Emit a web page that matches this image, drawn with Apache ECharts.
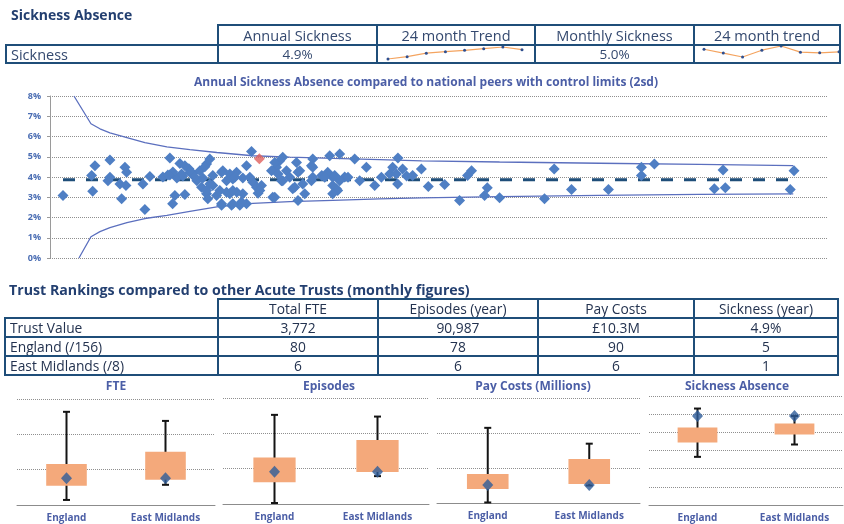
<!DOCTYPE html>
<html>
<head>
<meta charset="utf-8">
<script src="https://cdn.jsdelivr.net/npm/echarts@6/dist/echarts.min.js"></script>
<style>
  html, body { margin: 0; padding: 0; background: #fff; }
  #page { position: relative; width: 844px; height: 524px; overflow: hidden; font-family: "Open Sans", "Noto Sans", sans-serif; }
  #chart { position: absolute; left: 0; top: 0; width: 844px; height: 524px; }
  .cell { position: absolute; box-sizing: border-box; border: 2px solid #1F4E79; display: flex; align-items: center; justify-content: center; color: #23324F; white-space: nowrap; }
  .cell.left { justify-content: flex-start; padding-left: 4px; }
  .heading { position: absolute; font-weight: bold; color: #233F70; white-space: nowrap; }
</style>
</head>
<body>
<div id="page">
  <div id="chart"></div>
</div>
<script>
// ---- Summary table ----
const topHeaders = ['Annual Sickness', '24 month Trend', 'Monthly Sickness', '24 month trend'];
const topRowLabel = 'Sickness';
const topRowValues = ['4.9%', '', '5.0%', ''];

// 24 month sparklines (sickness %, quarterly markers)
const sparkPeriods = ['Q1', 'Q2', 'Q3', 'Q4', 'Q5', 'Q6', 'Q7', 'Q8'];
const sparkAnnual = [4.34, 4.48, 4.69, 4.78, 4.86, 4.96, 5.06, 4.90];
const sparkMonthly = [5.16, 4.92, 4.68, 5.10, 5.36, 4.98, 4.94, 5.00];

// ---- Funnel plot: [FTE, annual sickness %] for each acute trust ----
const peerTrusts = [
  [234,3.09],[810,4.56],[750,4.07],[769,3.30],[1080,4.84],[1044,3.82],[1080,3.99],[1291,2.93],[1350,4.48],[1381,4.23],
  [1260,3.66],[1368,3.58],[1674,3.66],[1710,2.39],[1800,4.02],[2160,4.94],[2340,4.67],[2034,4.00],[2160,4.10],[2286,3.95],
  [2394,4.05],[2214,4.25],[2250,3.09],[2209,2.68],[2430,3.14],[2502,4.41],[2574,4.17],[2700,4.31],[2646,3.82],[2821,4.64],
  [2880,4.89],[2754,3.95],[2731,3.50],[2821,3.17],[2844,2.93],[2934,4.07],[2934,3.58],[3001,3.09],[3091,2.60],[3114,4.31],
  [3181,3.82],[3240,3.17],[3271,2.60],[3294,3.90],[3361,4.23],[3366,3.25],[3420,2.60],[3474,3.95],[3541,4.56],[3541,2.68],
  [3474,3.17],[3631,5.26],[3654,3.74],[3721,3.50],[3749,3.20],[4014,3.00],[4081,4.48],[4140,4.80],[4194,4.97],[4171,3.82],
  [4261,4.31],[4320,3.99],[4441,4.72],[4500,4.31],[4374,3.42],[4554,3.66],[4469,2.84],[4590,3.17],[4734,4.89],[4734,4.48],
  [4711,3.82],[5040,5.05],[5094,3.99],[5161,3.42],[5220,5.13],[5310,4.00],[5369,3.99],[5490,4.89],[5580,3.82],[5701,4.48],
  [5850,3.58],[5971,3.99],[6120,4.15],[6174,4.48],[6269,4.94],[6264,3.66],[6354,4.40],[6426,4.05],[6534,4.07],[6691,4.40],
  [6817,3.53],[7110,3.63],[7380,2.84],[7524,4.07],[7596,4.31],[7830,3.09],[7879,3.47],[8100,2.98],[8910,2.93],[9085,4.40],
  [9396,3.38],[10062,3.38],[10656,4.48],[10656,4.07],[10890,4.64],[11970,3.42],[12127,4.35],[12168,3.47],[13338,3.38],[13405,4.31],
  [2790,4.51],[2430,4.56],[2371,4.15],[2520,4.23],[2610,3.99],[2880,3.66],[2821,3.33],[3091,4.23],[3240,4.15],[3330,3.99],
  [3060,3.33],[3181,3.25],[3294,3.33],[3091,2.68],[3294,2.68],[3451,2.76],[3600,3.99],[3811,3.58],[3780,3.33],[4050,4.72],
  [3991,4.31],[4109,4.15],[4194,3.82],[4050,3.00],[4469,4.23],[4410,3.50],[4711,4.56],[4734,3.99],[2124,4.10],[4896,4.07],
  [5004,4.23],[5130,4.07],[5220,3.82],[5094,3.58],[5184,3.33],[5094,3.17],[4950,3.99],[6241,4.15]
];
const ourTrust = [3772, 4.9];
const nationalMean = [[234, 3.86], [13405, 3.86]];
const upperLimit = [[432,8.0],[738,6.63],[900,6.38],[1080,6.18],[1386,5.95],[1710,5.70],[2106,5.49],[2520,5.35],[3006,5.21],
  [3654,5.05],[4320,4.98],[5094,4.92],[5940,4.86],[6696,4.80],[8100,4.74],[9900,4.68],[11700,4.62],[13392,4.56]];
const lowerLimit = [[522,0.0],[738,1.05],[900,1.30],[1080,1.50],[1386,1.75],[1710,1.95],[2106,2.10],[2520,2.30],[3006,2.52],
  [3654,2.70],[4320,2.78],[5094,2.85],[5940,2.92],[6696,2.97],[8100,3.03],[9900,3.09],[11700,3.14],[13392,3.17]];

// ---- Rankings table ----
const rankHeaders = ['Total FTE', 'Episodes (year)', 'Pay Costs', 'Sickness (year)'];
const rankLabels = ['Trust Value', 'England (/156)', 'East Midlands (/8)'];
const rankTrustValue = ['3,772', '90,987', '£10.3M', '4.9%'];
const rankEngland = ['80', '78', '90', '5'];
const rankEastMidlands = ['6', '6', '6', '1'];

// ---- Peer distributions: [min, lower quartile, upper quartile, max] ----
const boxCategories = ['England', 'East Midlands'];
const fteEngland = [714, 2714, 5814, 13186];
const fteEastMidlands = [2857, 3571, 7529, 11900];
const episodesEngland = [2857, 61714, 131429, 252286];
const episodesEastMidlands = [78857, 90286, 180857, 247429];
const payEngland = [0.3, 7.95, 16.6, 42.95];
const payEastMidlands = [10.0, 10.8, 25.2, 33.9];
const sicknessEngland = [2.65, 3.44, 4.26, 5.31];
const sicknessEastMidlands = [3.33, 3.88, 4.48, 4.9];
const trustFte = 3772;
const trustEpisodes = 90987;
const trustPay = 10.3;
const trustSickness = 4.9;

// ---------------- HTML tables ----------------
const page = document.getElementById('page');

function addCell(x0, x1, y0, y1, text, opts) {
  opts = opts || {};
  const d = document.createElement('div');
  d.className = 'cell' + (opts.left ? ' left' : '');
  d.style.left = (x0 - 1) + 'px';
  d.style.top = (y0 - 1) + 'px';
  d.style.width = (x1 - x0 + 2) + 'px';
  d.style.height = (y1 - y0 + 2) + 'px';
  d.style.fontSize = (opts.size || 12) + 'px';
  if (opts.color) d.style.color = opts.color;
  d.textContent = text;
  page.appendChild(d);
}
function addHeading(text, x, y, size) {
  const d = document.createElement('div');
  d.className = 'heading';
  d.style.left = x + 'px';
  d.style.top = y + 'px';
  d.style.fontSize = size + 'px';
  d.textContent = text;
  page.appendChild(d);
}

addHeading('Sickness Absence', 11, 5, 14);
const topCols = [218, 377, 535, 694, 840];
topHeaders.forEach((h, i) => addCell(topCols[i], topCols[i + 1], 25, 45, h, { size: 14.5, color: '#34496F' }));
addCell(6, 218, 45, 63, topRowLabel, { left: true, size: 14.5, color: '#34496F' });
topRowValues.forEach((v, i) => addCell(topCols[i], topCols[i + 1], 45, 63, v, { size: 13.5, color: '#34496F' }));

addHeading('Trust Rankings compared to other Acute Trusts (monthly figures)', 9, 280, 14.2);
const rankCols = [218, 378, 538, 694, 838];
const rankRowsY = [299, 318, 337, 356, 375];
rankHeaders.forEach((h, i) => addCell(rankCols[i], rankCols[i + 1], rankRowsY[0], rankRowsY[1], h, { size: 13.8 }));
[rankTrustValue, rankEngland, rankEastMidlands].forEach((row, r) => {
  addCell(5, 218, rankRowsY[r + 1], rankRowsY[r + 2], rankLabels[r], { left: true, size: 13.8 });
  row.forEach((v, i) => addCell(rankCols[i], rankCols[i + 1], rankRowsY[r + 1], rankRowsY[r + 2], v, { size: 13.8 }));
});

// ---------------- ECharts ----------------
const chart = echarts.init(document.getElementById('chart'));
const FONT = '"Open Sans", "Noto Sans", sans-serif';
const TITLE_BLUE = '#4B5EA6';
const GRID_LINE = { lineStyle: { color: '#8f8f8f', type: 'dotted', width: 1 } };

const boxPanels = [
  { title: 'FTE', left: 17, width: 198, top: 399, height: 106, max: 15000, interval: 5000,
    boxes: [fteEngland, fteEastMidlands], trust: trustFte },
  { title: 'Episodes', left: 223, width: 206, top: 398, height: 106, max: 300000, interval: 100000,
    boxes: [episodesEngland, episodesEastMidlands], trust: trustEpisodes },
  { title: 'Pay Costs (Millions)', left: 437, width: 203, top: 398, height: 105, max: 60, interval: 20,
    boxes: [payEngland, payEastMidlands], trust: trustPay },
  { title: 'Sickness Absence', left: 649, width: 194, top: 396, height: 109, max: 6, interval: 1,
    boxes: [sicknessEngland, sicknessEastMidlands], trust: trustSickness }
];
const panelTitleX = [116, 329, 533, 737];

const grids = [
  { left: 50, top: 96, width: 777, height: 162 },
  { left: 388, top: 47, width: 134, height: 12 },
  { left: 704, top: 46, width: 135, height: 11 }
];
const xAxes = [
  { gridIndex: 0, type: 'value', min: 0, max: 14000, show: false },
  { gridIndex: 1, type: 'category', data: sparkPeriods, boundaryGap: false, show: false },
  { gridIndex: 2, type: 'category', data: sparkPeriods, boundaryGap: false, show: false }
];
const yAxes = [
  { gridIndex: 0, type: 'value', min: 0, max: 8, interval: 1,
    axisLabel: { formatter: '{value}%', color: '#4A6DB3', fontSize: 9, fontWeight: 'bold', fontFamily: FONT, margin: 9 },
    axisLine: { show: true, lineStyle: { color: '#9a9a9a' } },
    axisTick: { show: true, length: 3, lineStyle: { color: '#9a9a9a' } },
    splitLine: GRID_LINE },
  { gridIndex: 1, type: 'value', min: 'dataMin', max: 'dataMax', show: false },
  { gridIndex: 2, type: 'value', min: 'dataMin', max: 'dataMax', show: false }
];

const series = [
  { type: 'line', xAxisIndex: 0, yAxisIndex: 0, data: upperLimit, symbol: 'none', z: 2,
    lineStyle: { color: '#5B6FBE', width: 1.3 } },
  { type: 'line', xAxisIndex: 0, yAxisIndex: 0, data: lowerLimit, symbol: 'none', z: 2,
    lineStyle: { color: '#5B6FBE', width: 1.3 } },
  { type: 'line', xAxisIndex: 0, yAxisIndex: 0, data: nationalMean, symbol: 'none', z: 3,
    lineStyle: { color: '#1F4E79', width: 3, type: [12, 11] } },
  { type: 'scatter', xAxisIndex: 0, yAxisIndex: 0, data: peerTrusts, symbol: 'diamond', symbolSize: [11, 11], z: 4,
    itemStyle: { color: '#4F7FC4', opacity: 1 } },
  { type: 'scatter', xAxisIndex: 0, yAxisIndex: 0, data: [ourTrust], symbol: 'diamond', symbolSize: [11, 11], z: 5,
    itemStyle: { color: '#E0605C' } },
  { type: 'line', xAxisIndex: 1, yAxisIndex: 1, data: sparkAnnual, symbol: 'circle', symbolSize: 3,
    lineStyle: { color: '#F4A460', width: 1.2 }, itemStyle: { color: '#2F4F8F' } },
  { type: 'line', xAxisIndex: 2, yAxisIndex: 2, data: sparkMonthly, symbol: 'circle', symbolSize: 3,
    lineStyle: { color: '#F4A460', width: 1.2 }, itemStyle: { color: '#2F4F8F' } }
];

function renderBox(params, api) {
  const cat = api.value(0);
  const lo = api.coord([cat, api.value(1)]);
  const q1 = api.coord([cat, api.value(2)]);
  const q3 = api.coord([cat, api.value(3)]);
  const hi = api.coord([cat, api.value(4)]);
  const bw = api.size([1, 0])[0] * 0.41;
  const cap = 7;
  const stroke = { stroke: '#141414', lineWidth: 2 };
  return {
    type: 'group',
    children: [
      { type: 'line', shape: { x1: lo[0], y1: lo[1], x2: hi[0], y2: hi[1] }, style: stroke },
      { type: 'line', shape: { x1: hi[0] - cap / 2, y1: hi[1], x2: hi[0] + cap / 2, y2: hi[1] }, style: stroke },
      { type: 'line', shape: { x1: lo[0] - cap / 2, y1: lo[1], x2: lo[0] + cap / 2, y2: lo[1] }, style: stroke },
      { type: 'rect', shape: { x: q3[0] - bw / 2, y: q3[1], width: bw, height: q1[1] - q3[1] },
        style: { fill: '#F4A97B' } }
    ]
  };
}

boxPanels.forEach((p, k) => {
  const gi = grids.length;
  grids.push({ left: p.left, top: p.top, width: p.width, height: p.height });
  xAxes.push({ gridIndex: gi, type: 'category', data: boxCategories,
    axisLine: { lineStyle: { color: '#8c8c8c' } },
    axisTick: { length: 3, lineStyle: { color: '#8c8c8c' } },
    axisLabel: { color: TITLE_BLUE, fontSize: 10, fontWeight: 'bold', fontFamily: FONT, margin: 8 } });
  yAxes.push({ gridIndex: gi, type: 'value', min: 0, max: p.max, interval: p.interval,
    axisLabel: { show: false }, axisLine: { show: false }, axisTick: { show: false }, splitLine: GRID_LINE });
  series.push({ type: 'custom', xAxisIndex: gi, yAxisIndex: gi, renderItem: renderBox,
    encode: { x: 0, y: [1, 2, 3, 4] },
    data: p.boxes.map((b, i) => [i].concat(b)), z: 3 });
  series.push({ type: 'scatter', xAxisIndex: gi, yAxisIndex: gi, symbol: 'diamond', symbolSize: [11, 12], z: 5,
    data: boxCategories.map((c, i) => [i, p.trust]), itemStyle: { color: '#2E5C9A' } });
});

const graphics = [
  { type: 'text', x: 426, y: 83, z: 10,
    style: { text: 'Annual Sickness Absence compared to national peers with control limits (2sd)',
      font: 'bold 12px ' + FONT, fill: TITLE_BLUE, textAlign: 'center', textVerticalAlign: 'middle' } }
].concat(boxPanels.map((p, k) => ({
  type: 'text', x: panelTitleX[k], y: 387, z: 10,
  style: { text: p.title, font: 'bold 12px ' + FONT, fill: TITLE_BLUE, textAlign: 'center', textVerticalAlign: 'middle' }
})));

chart.setOption({
  animation: false,
  textStyle: { fontFamily: FONT },
  grid: grids,
  xAxis: xAxes,
  yAxis: yAxes,
  series: series,
  graphic: graphics
});
</script>
</body>
</html>
